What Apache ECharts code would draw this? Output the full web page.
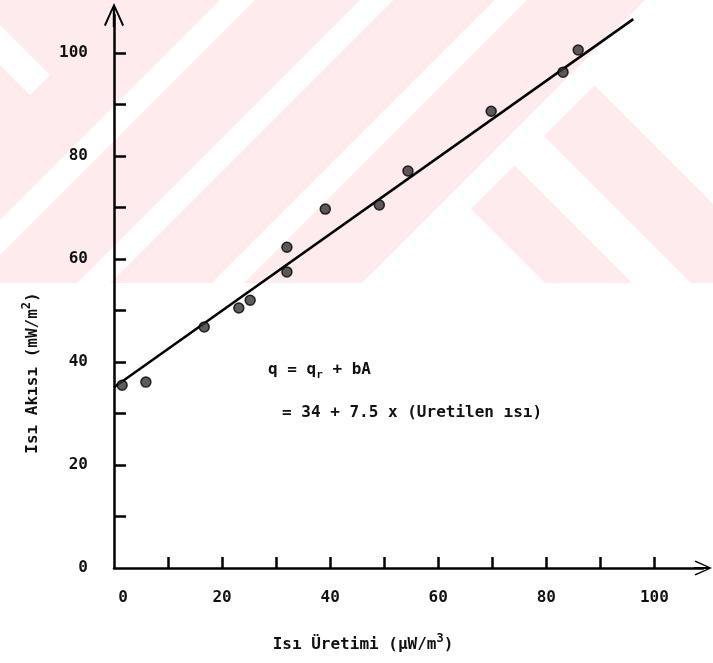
<!DOCTYPE html>
<html>
<head>
<meta charset="utf-8">
<script src="https://cdn.jsdelivr.net/npm/echarts@6/dist/echarts.min.js"></script>
<style>
  html, body { margin: 0; padding: 0; background: #fff; }
  #chart { width: 713px; height: 663px; }
</style>
</head>
<body>
<div id="chart"></div>
<script>
// measured points (heat production vs heat flow)
var uretim = [1.5, 5.9, 16.7, 23.1, 25.2, 32.0, 32.0, 39.1, 49.1, 54.4, 69.8, 83.1, 85.9]
var akis = [35.5, 36.1, 46.8, 50.5, 52.0, 57.5, 62.3, 69.7, 70.5, 77.1, 88.7, 96.3, 100.6]

// fitted line, as drawn
var fitX = [0, 96.1]
var fitY = [35.1, 106.6]

var tickValues = [10, 20, 30, 40, 50, 60, 70, 80, 90, 100]
var labelValues = [0, 20, 40, 60, 80, 100]

var font = '"DejaVu Sans Mono", monospace'
var ink = '#111'

// open arrow head with its stem, pointing up
var arrowPath = 'path://M10,0 L20,22 L18.3,23.2 L11.2,7 L11.2,24 L8.8,24 L8.8,7 L1.7,23.2 L0,22 Z'

// scanned page watermark (pink stripes at the top)
var pink = '#fdebee'
var wm = [
  { type: 'rect', shape: { x: 0, y: 0, width: 713, height: 283 }, fill: pink },
  { type: 'polygon', pts: [[270, -50], [305, -50], [-95, 350], [-130, 350]], fill: '#fff' },
  { type: 'polygon', pts: [[410, -50], [443, -50], [43, 350], [10, 350]], fill: '#fff' },
  { type: 'polygon', pts: [[545, -50], [577, -50], [177, 350], [145, 350]], fill: '#fff' },
  { type: 'polygon', pts: [[645, 0], [1400, 0], [1400, 400], [245, 400]], fill: '#fff' },
  { type: 'polygon', pts: [[471, 209], [514.5, 165.5], [749, 400], [662, 400]], fill: pink },
  { type: 'polygon', pts: [[544, 136], [594.5, 85.5], [909, 400], [808, 400]], fill: pink },
  { type: 'polygon', pts: [[-100, -75], [50, 75], [30, 95], [-100, -35]], fill: '#fff' },
  { type: 'rect', shape: { x: 0, y: 283, width: 713, height: 400 }, fill: '#fff' }
].map(function (d, i) {
  return {
    type: d.type,
    z: -20 + i,
    silent: true,
    shape: d.shape || { points: d.pts },
    style: { fill: d.fill }
  }
})

var chart = echarts.init(document.getElementById('chart'))

var option = {
  backgroundColor: '#fff',
  animation: false,
  grid: { left: 114, right: 10, top: 15, bottom: 95 },
  xAxis: {
    type: 'value',
    min: 0,
    max: 109,
    interval: 10,
    splitLine: { show: false },
    axisLine: {
      lineStyle: { color: '#000', width: 2.5 },
      symbol: ['none', arrowPath],
      symbolSize: [20, 18]
    },
    axisTick: {
      inside: true,
      length: 11,
      customValues: tickValues,
      lineStyle: { color: '#000', width: 2.5 }
    },
    axisLabel: {
      customValues: labelValues,
      margin: 22,
      color: ink,
      fontFamily: font,
      fontWeight: 'bold',
      fontSize: 16,
      // the "0" sits a little right of the axis in the original
      formatter: function (v) { return v === 0 ? '{z|0}' : String(v) },
      rich: { z: { padding: [0, 0, 0, 18], fontFamily: font, fontWeight: 'bold', fontSize: 16, color: ink } }
    }
  },
  yAxis: {
    type: 'value',
    min: 0,
    max: 107.4,
    interval: 10,
    splitLine: { show: false },
    axisLine: {
      lineStyle: { color: '#000', width: 2.5 },
      symbol: ['none', arrowPath],
      symbolSize: [20, 24]
    },
    axisTick: {
      inside: true,
      length: 12,
      customValues: tickValues,
      lineStyle: { color: '#000', width: 2.5 }
    },
    axisLabel: {
      customValues: labelValues,
      margin: 26,
      color: ink,
      fontFamily: font,
      fontWeight: 'bold',
      fontSize: 16
    }
  },
  series: [
    {
      name: 'fit',
      type: 'line',
      data: fitX.map(function (x, i) { return [x, fitY[i]] }),
      showSymbol: false,
      lineStyle: { color: '#000', width: 2.5 },
      z: 3
    },
    {
      name: 'olcum',
      type: 'scatter',
      data: uretim.map(function (x, i) { return [x, akis[i]] }),
      symbol: 'circle',
      symbolSize: 10,
      itemStyle: { color: '#333', borderColor: '#000', borderWidth: 1.5 },
      z: 4
    }
  ],
  graphic: wm.concat([
    {
      type: 'text',
      x: 268,
      y: 370,
      style: {
        text: 'q = q{s|r} + bA',
        fill: ink,
        font: 'bold 16px ' + font,
        verticalAlign: 'middle',
        rich: { s: { font: 'bold 11px ' + font, padding: [10, 0, 0, 0] } }
      }
    },
    {
      type: 'text',
      x: 282,
      y: 413,
      style: {
        text: '= 34 + 7.5 x (Uretilen ısı)',
        fill: ink,
        font: 'bold 16px ' + font,
        verticalAlign: 'middle'
      }
    },
    {
      type: 'text',
      x: 33,
      y: 373,
      rotation: Math.PI / 2,
      style: {
        text: 'Isı Akısı (mW/m{p|2})',
        fill: ink,
        font: 'bold 16px ' + font,
        align: 'center',
        verticalAlign: 'middle',
        rich: { p: { font: 'bold 12px ' + font, padding: [0, 0, 12, 0] } }
      }
    },
    {
      type: 'text',
      x: 363,
      y: 645,
      style: {
        text: 'Isı Üretimi (μW/m{p|3})',
        fill: ink,
        font: 'bold 16px ' + font,
        align: 'center',
        verticalAlign: 'middle',
        rich: { p: { font: 'bold 12px ' + font, padding: [0, 0, 12, 0] } }
      }
    }
  ])
}

chart.setOption(option)
</script>
</body>
</html>
